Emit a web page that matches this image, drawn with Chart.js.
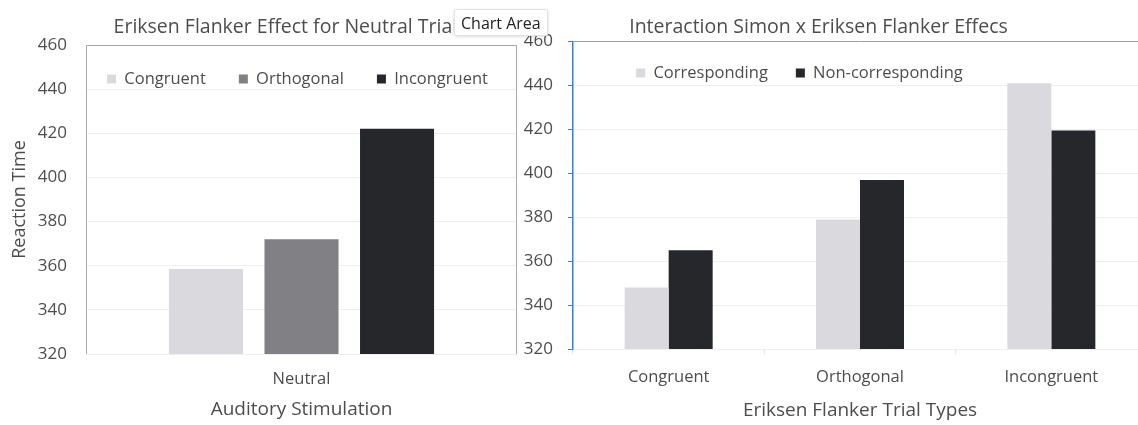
<!DOCTYPE html>
<html>
<head>
<meta charset="utf-8">
<script src="https://cdn.jsdelivr.net/npm/chart.js@4"></script>
<style>
  html, body { margin: 0; padding: 0; background: #fff; overflow: hidden; }
  body { width: 1138px; height: 425px; position: relative; }
  canvas { position: absolute; top: 0; }
  #left { left: 0; }
  #right { left: 490px; }
  #tip {
    position: absolute; left: 454px; top: 9px; width: 94px; height: 27px;
    background: #fff; border: 1px solid #e2e2e2; border-radius: 2px;
    box-shadow: 0 1px 3px rgba(0,0,0,0.12);
    font: 16px "Open Sans", sans-serif; color: #222; line-height: 27px;
    padding-left: 6px; box-sizing: border-box; z-index: 5;
  }
</style>
</head>
<body>
<canvas id="left" width="580" height="425"></canvas>
<canvas id="right" width="657" height="425"></canvas>
<div id="tip">Chart Area</div>
<script>
// left chart: neutral trials
const neutralLabels = ["Neutral"];
const neutralSeries = ["Congruent", "Orthogonal", "Incongruent"];
const neutralValues = [358.5, 372, 422];

// right chart: Simon x Flanker
const trialTypes = ["Congruent", "Orthogonal", "Incongruent"];
const corresponding = [348, 379, 441];
const nonCorresponding = [365, 397, 419.5];

const yTicks = [320, 340, 360, 380, 400, 420, 440, 460];

const light = "#dadade";
const mid = "#818185";
const dark = "#26272b";
const textColor = "#4d4d4d";
const gridLight = "#efeff1";

Chart.defaults.font.family = "'Open Sans', sans-serif";
Chart.defaults.color = textColor;

// legend sits inside the plot, so it gets no layout space and is moved down after layout
function inlineLegend(dx, dy) {
  return {
    id: "inlineLegend",
    beforeLayout(chart) {
      const lg = chart.legend;
      if (lg && !lg._wrapped) {
        const fit = lg.fit.bind(lg);
        lg.fit = function () { fit(); this._realHeight = this.height; this.height = 0; };
        lg._wrapped = true;
      }
    },
    afterLayout(chart) {
      const lg = chart.legend;
      lg.left += dx; lg.right += dx;
      lg.top += dy;
      lg.height = lg._realHeight;
      lg.bottom = lg.top + lg.height;
    },
  };
}

const plotBorder = {
  id: "plotBorder",
  afterDatasetsDraw(chart) {
    const { ctx, chartArea: a } = chart;
    ctx.save();
    ctx.strokeStyle = "#a8a8a8";
    ctx.lineWidth = 1;
    ctx.beginPath();
    ctx.moveTo(a.left + 0.5, a.bottom);
    ctx.lineTo(a.left + 0.5, a.top + 0.5);
    ctx.lineTo(a.right - 0.5, a.top + 0.5);
    ctx.lineTo(a.right - 0.5, a.bottom);
    ctx.stroke();
    ctx.restore();
  },
};

new Chart(document.getElementById("left"), {
  type: "bar",
  data: {
    labels: neutralLabels,
    datasets: neutralSeries.map((name, i) => ({
      label: name,
      data: [neutralValues[i]],
      backgroundColor: [light, mid, dark][i],
      borderWidth: 0,
      categoryPercentage: 0.665,
      barPercentage: 0.775,
    })),
  },
  options: {
    responsive: false,
    animation: false,
    layout: { padding: 0 },
    plugins: {
      title: {
        display: true,
        text: "Eriksen Flanker Effect for Neutral Trials",
        font: { size: 19.5, weight: "normal" },
        color: textColor,
        padding: { top: 15.3, bottom: 6.3 },
      },
      legend: {
        position: "top",
        labels: {
          boxWidth: 9, boxHeight: 9, padding: 33,
          font: { size: 16.5 }, color: textColor,
        },
      },
      tooltip: { enabled: false },
    },
    scales: {
      x: {
        grid: { display: false },
        border: { display: false },
        ticks: { font: { size: 16.5 }, padding: 7, color: textColor },
        title: {
          display: true, text: "Auditory Stimulation",
          font: { size: 19 }, color: textColor, padding: { top: 0, bottom: 3.6 },
        },
        afterFit(s) { s.height = 71; },
      },
      y: {
        min: 320, max: 460,
        afterBuildTicks(s) { s.ticks = yTicks.map((v) => ({ value: v })); },
        grid: { color: gridLight, drawTicks: false },
        border: { display: false },
        ticks: { font: { size: 17 }, padding: 19, color: textColor },
        title: {
          display: true, text: "Reaction Time",
          font: { size: 18 }, color: textColor, padding: { top: 9, bottom: 0 },
        },
        afterFit(s) { s.width = 86; },
      },
      // empty space on the right of the plot
      pad: {
        type: "linear", position: "right", display: true,
        grid: { display: false }, border: { display: false },
        ticks: { display: false },
        afterFit(s) { s.width = 63; },
      },
    },
  },
  plugins: [inlineLegend(7.5, -7.3), plotBorder],
});

new Chart(document.getElementById("right"), {
  type: "bar",
  data: {
    labels: trialTypes,
    datasets: [
      {
        label: "Corresponding",
        data: corresponding,
        backgroundColor: light,
        borderWidth: 0,
        categoryPercentage: 0.46,
        barPercentage: 1,
      },
      {
        label: "Non-corresponding",
        data: nonCorresponding,
        backgroundColor: dark,
        borderWidth: 0,
        categoryPercentage: 0.46,
        barPercentage: 1,
      },
    ],
  },
  options: {
    responsive: false,
    animation: false,
    layout: { padding: 0 },
    plugins: {
      title: {
        display: true,
        text: "Interaction Simon x Eriksen Flanker Effecs",
        font: { size: 19.5, weight: "normal" },
        color: textColor,
        padding: { top: 15.3, bottom: 2.8 },
      },
      legend: {
        position: "top",
        labels: {
          boxWidth: 9, boxHeight: 9, padding: 28,
          font: { size: 16.5 }, color: textColor,
        },
      },
      tooltip: { enabled: false },
    },
    scales: {
      x: {
        grid: { drawOnChartArea: false, drawTicks: true, tickLength: 5, color: "#e4e4e6" },
        border: { display: false },
        ticks: { font: { size: 16.5 }, padding: 13, color: textColor },
        title: {
          display: true, text: "Eriksen Flanker Trial Types",
          font: { size: 19 }, color: textColor, padding: { top: 0, bottom: 2.6 },
        },
        afterFit(s) { s.height = 76; },
      },
      y: {
        min: 320, max: 460,
        afterBuildTicks(s) { s.ticks = yTicks.map((v) => ({ value: v })); },
        grid: {
          color: (c) => (c.tick && c.tick.value === 460 ? "#a0a0a0" : gridLight),
          tickColor: "#3d7fe0", tickLength: 5, drawTicks: true,
        },
        border: { display: true, color: "#3d7fe0", width: 1.5 },
        ticks: { font: { size: 17 }, padding: 15, color: textColor },
        afterFit(s) { s.width = 83; },
      },
    },
  },
  plugins: [inlineLegend(-19, -4.8)],
});
</script>
</body>
</html>
